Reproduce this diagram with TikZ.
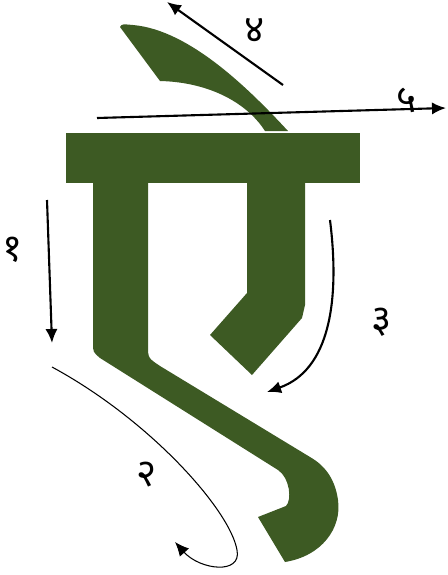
\documentclass[tikz,border=0pt]{standalone}
\usepackage{fontspec}
\newfontfamily\deva[Script=Devanagari]{Noto Sans}
\usepackage{tikz}
\usetikzlibrary{arrows.meta}
\usepackage{xcolor}
\definecolor{leafgreen}{RGB}{61,90,35}

\tikzset{
    glyph/.style={fill=leafgreen, draw=none},
    strokearrow/.style={-{Latex[length=8pt,width=7pt]}, line width=1.2pt},
    thinarrow/.style={-{Latex[length=8pt,width=7pt]}, line width=0.6pt},
    numlabel/.style={font=\deva\fontsize{22}{26}\selectfont}
}

\begin{document}
\begin{tikzpicture}[x=0.02cm, y=-0.02cm]
    \useasboundingbox (0,0) rectangle (447,575);

    % Letter shape
    \fill[glyph] (120,27) .. controls (122,24) .. (133,25) .. controls (190,30) and (250,90) .. (288,131)
        -- (265,131) .. controls (245,100) and (205,82) .. (160,81) -- cycle;
    \fill[glyph] (66,133) rectangle (360,183);
    \fill[glyph] (93,180) -- (93,343) .. controls (93,352) .. (100,358) -- (278,470)
        .. controls (290,478) and (292,500) .. (286,506) -- (258,517) -- (285,562)
        .. controls (322,556) and (342,528) .. (338,500)
        .. controls (335,478) and (324,465) .. (310,457)
        -- (160,366) .. controls (148,358) .. (148,345) -- (148,180) -- cycle;
    \fill[glyph] (247,180) -- (247,293) -- (210,335) -- (252,375) -- (302,318)
        -- (305,305) -- (305,180) -- cycle;

    % Stroke order arrows
    \coordinate (onestart) at (47,200);
    \coordinate (oneend) at (52,343);
    \coordinate (twostart) at (52,367);
    \coordinate (twoturn) at (237,550);
    \coordinate (twoend) at (175,542);
    \coordinate (threestart) at (330,220);
    \coordinate (threeend) at (267,392);
    \coordinate (fourstart) at (283,85);
    \coordinate (fourend) at (167,2);
    \coordinate (fivestart) at (97,118);
    \coordinate (fiveend) at (446,108);

    \draw[strokearrow] (onestart) -- (oneend);
    \draw[thinarrow] (twostart) .. controls (150,420) and (230,510) .. (twoturn)
        .. controls (242,575) and (200,570) .. (twoend);
    \draw[strokearrow] (threestart) .. controls (340,300) and (330,370) .. (threeend);
    \draw[strokearrow] (fourstart) -- (fourend);
    \draw[strokearrow] (fivestart) -- (fiveend);

    % Numbers
    \node[numlabel] (labelone) at (13,250) {१};
    \node[numlabel] (labeltwo) at (147,475) {२};
    \node[numlabel] (labelthree) at (382,322) {३};
    \node[numlabel] (labelfour) at (255,30) {४};
    \node[numlabel] (labelfive) at (407,100) {५};
\end{tikzpicture}
\end{document}
